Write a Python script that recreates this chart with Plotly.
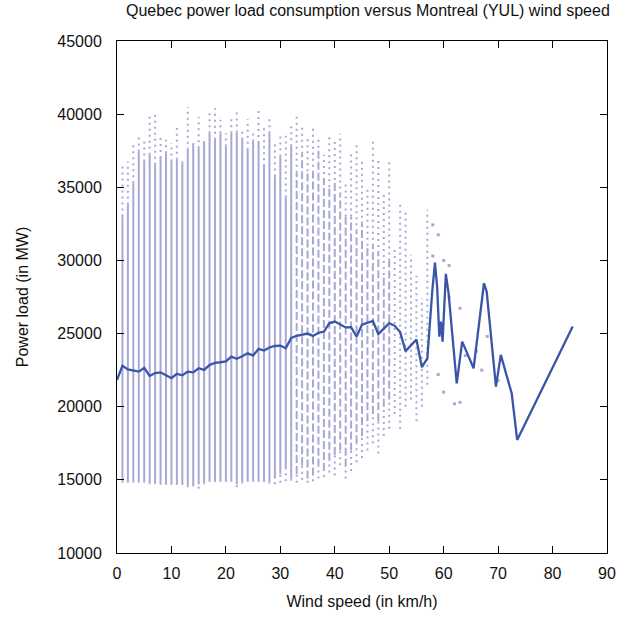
import plotly.graph_objects as go

# ---------------- data ----------------
# per wind speed column (km/h): sparse max, top of dense band, bottom of dense band, sparse min
col_speed = list(range(1, 58))
col_max = [36650, 36760, 38020, 38430, 38300, 40030, 40120, 38520, 38250, 38020,
           39050, 36770, 40480, 38020, 39800, 38430, 40300, 40410, 39620, 38700,
           39800, 40260, 39050, 39660, 38700, 40410, 39210, 39660, 38020, 38700,
           38520, 39200, 39840, 39200, 38360, 39050, 38300, 37220, 38520, 38130,
           38660, 35400, 37330, 38130, 36880, 34830, 38130, 36990, 34710, 36840,
           30840, 33920, 33460, 30380, 28950, 27420, 33460]
col_dense_top = [33000, 33800, 35280, 37450, 36770, 37220, 36540, 37000, 37330, 36770,
                 36880, 36650, 37560, 38020, 37670, 38020, 38700, 38250, 38700, 37790,
                 38700, 38750, 38250, 37560, 38130, 38020, 36430, 38700, 35740, 37100,
                 34300, 37800, 36000, 37300, 36100, 36000, 37700, 35500, 35000, 35500,
                 34500, 33000, 33000, 32000, 32500, 31000, 31000, 30500, 29000, 30000,
                 None, None, None, None, None, None, None]
col_dense_bot = [14900, 14900, 14900, 14900, 14900, 14750, 14750, 14700, 14700, 14700,
                 14700, 14700, 14650, 14650, 14700, 14800, 14900, 14900, 14900, 14900,
                 14900, 14700, 14800, 14900, 14900, 14900, 14900, 14800, 15100, 15400,
                 15700, 15000, 15400, 16000, 15100, 15300, 15900, 15600, 16300, 16700,
                 17000, 15900, 17000, 17500, 18000, 19000, 19500, 19000, 20000, 20500,
                 None, None, None, None, None, None, None]
col_min = [14800, 14800, 14800, 14800, 14800, 14700, 14700, 14650, 14650, 14650,
           14650, 14650, 14500, 14550, 14400, 14700, 14850, 14850, 14850, 14850,
           14850, 14500, 14750, 14850, 14850, 14850, 14850, 14750, 14700, 14800,
           14900, 14950, 14800, 15000, 14800, 14900, 15100, 15200, 15500, 15300,
           16000, 15100, 15600, 16200, 16500, 17000, 17500, 16800, 18000, 18500,
           19500, 18500, 20000, 20500, 19000, 20000, 21500]

# sparse points at the highest wind speeds
hi_speed = [58, 58, 59, 59, 60, 60, 61, 61, 62, 63, 63, 64, 66, 67, 68, 70]
hi_load = [32430, 30300, 31750, 22200, 30000, 21000, 29650, 27500, 20200, 26730, 20300, 23500, 23800, 22500, 24800, 21800]

# mean power load per wind speed
mean_speed = list(range(0, 58)) + [57.9, 58.4, 58.8, 59.2, 59.5, 59.8, 60.4, 60.9,
                                   62.4, 63.4, 65.5, 67.4, 67.9, 69.6, 70.5, 72.5, 73.5, 83.7]
mean_load = [21830, 22800, 22550, 22450, 22400, 22650, 22100, 22300, 22350, 22150,
             21950, 22250, 22150, 22400, 22350, 22630, 22520, 22850, 23000, 23040,
             23100, 23420, 23280, 23450, 23650, 23500, 23950, 23840, 24050, 24150,
             24180, 24000, 24700, 24850, 24950, 25000, 24840, 25050, 25140, 25700,
             25820, 25600, 25420, 25440, 24800, 25600, 25750, 25870, 24960, 25350,
             25710, 25530, 25100, 23800, 24200, 24600, 22700, 23300,
             27870, 29850, 28210, 24790, 25820, 24450, 29080, 27760,
             21590, 24450, 22630, 28440, 27870, 21370, 23540, 20900, 17730, 25480]

TITLE = "Quebec power load consumption versus Montreal (YUL) wind speed"
XTITLE = "Wind speed (in km/h)"
YTITLE = "Power load (in MW)"

# ---------------- build segment traces ----------------
solid_x, solid_y = [], []
dash_x, dash_y = [], []
dot_x, dot_y = [], []
for s, mx, dt, db, mn in zip(col_speed, col_max, col_dense_top, col_dense_bot, col_min):
    if dt is None:
        dot_x += [s, s, None]
        dot_y += [mn, mx, None]
        continue
    tx, ty = (solid_x, solid_y) if s <= 32 else (dash_x, dash_y)
    tx += [s, s, None]
    ty += [db, dt, None]
    dot_x += [s, s, None, s, s, None]
    dot_y += [dt, mx, None, mn, db, None]

PURPLE = "#a8a8d6"
fig = go.Figure()
fig.add_trace(go.Scatter(x=dot_x, y=dot_y, mode="lines",
                         line=dict(color=PURPLE, width=2.0, dash="2px,4px"),
                         hoverinfo="skip", showlegend=False))
fig.add_trace(go.Scatter(x=dash_x, y=dash_y, mode="lines",
                         line=dict(color=PURPLE, width=2.0, dash="8px,3px"),
                         hoverinfo="skip", showlegend=False))
fig.add_trace(go.Scatter(x=solid_x, y=solid_y, mode="lines",
                         line=dict(color=PURPLE, width=2.0),
                         hoverinfo="skip", showlegend=False))
fig.add_trace(go.Scatter(x=hi_speed, y=hi_load, mode="markers",
                         marker=dict(color=PURPLE, size=3, symbol="square"),
                         hoverinfo="skip", showlegend=False))
fig.add_trace(go.Scatter(x=mean_speed, y=mean_load, mode="lines",
                         line=dict(color="#3a55a8", width=2.3),
                         showlegend=False))

axis_common = dict(showgrid=False, zeroline=False, showline=True, linecolor="black",
                   linewidth=1, mirror="allticks", ticks="inside", ticklen=7,
                   tickcolor="black", tickfont=dict(size=16, color="#111"),
                   title_font=dict(size=16, color="#111"))

fig.update_layout(
    width=630, height=618,
    margin=dict(l=117, r=23, t=41, b=65),
    paper_bgcolor="white", plot_bgcolor="white",
    font=dict(family="Liberation Sans, Arial, sans-serif", color="#111"),
    title=dict(text=TITLE, x=0.512, xref="paper", y=0.992, yanchor="top",
               font=dict(size=16, color="#111")),
    xaxis=dict(range=[0, 90], dtick=10, ticklabelstandoff=6,
               title=dict(text=XTITLE, standoff=14), **axis_common),
    yaxis=dict(range=[10000, 45000], dtick=5000, tickformat="d", ticklabelstandoff=11,
               title=dict(text=YTITLE, standoff=24), **axis_common),
)

fig.write_html("out.html")
